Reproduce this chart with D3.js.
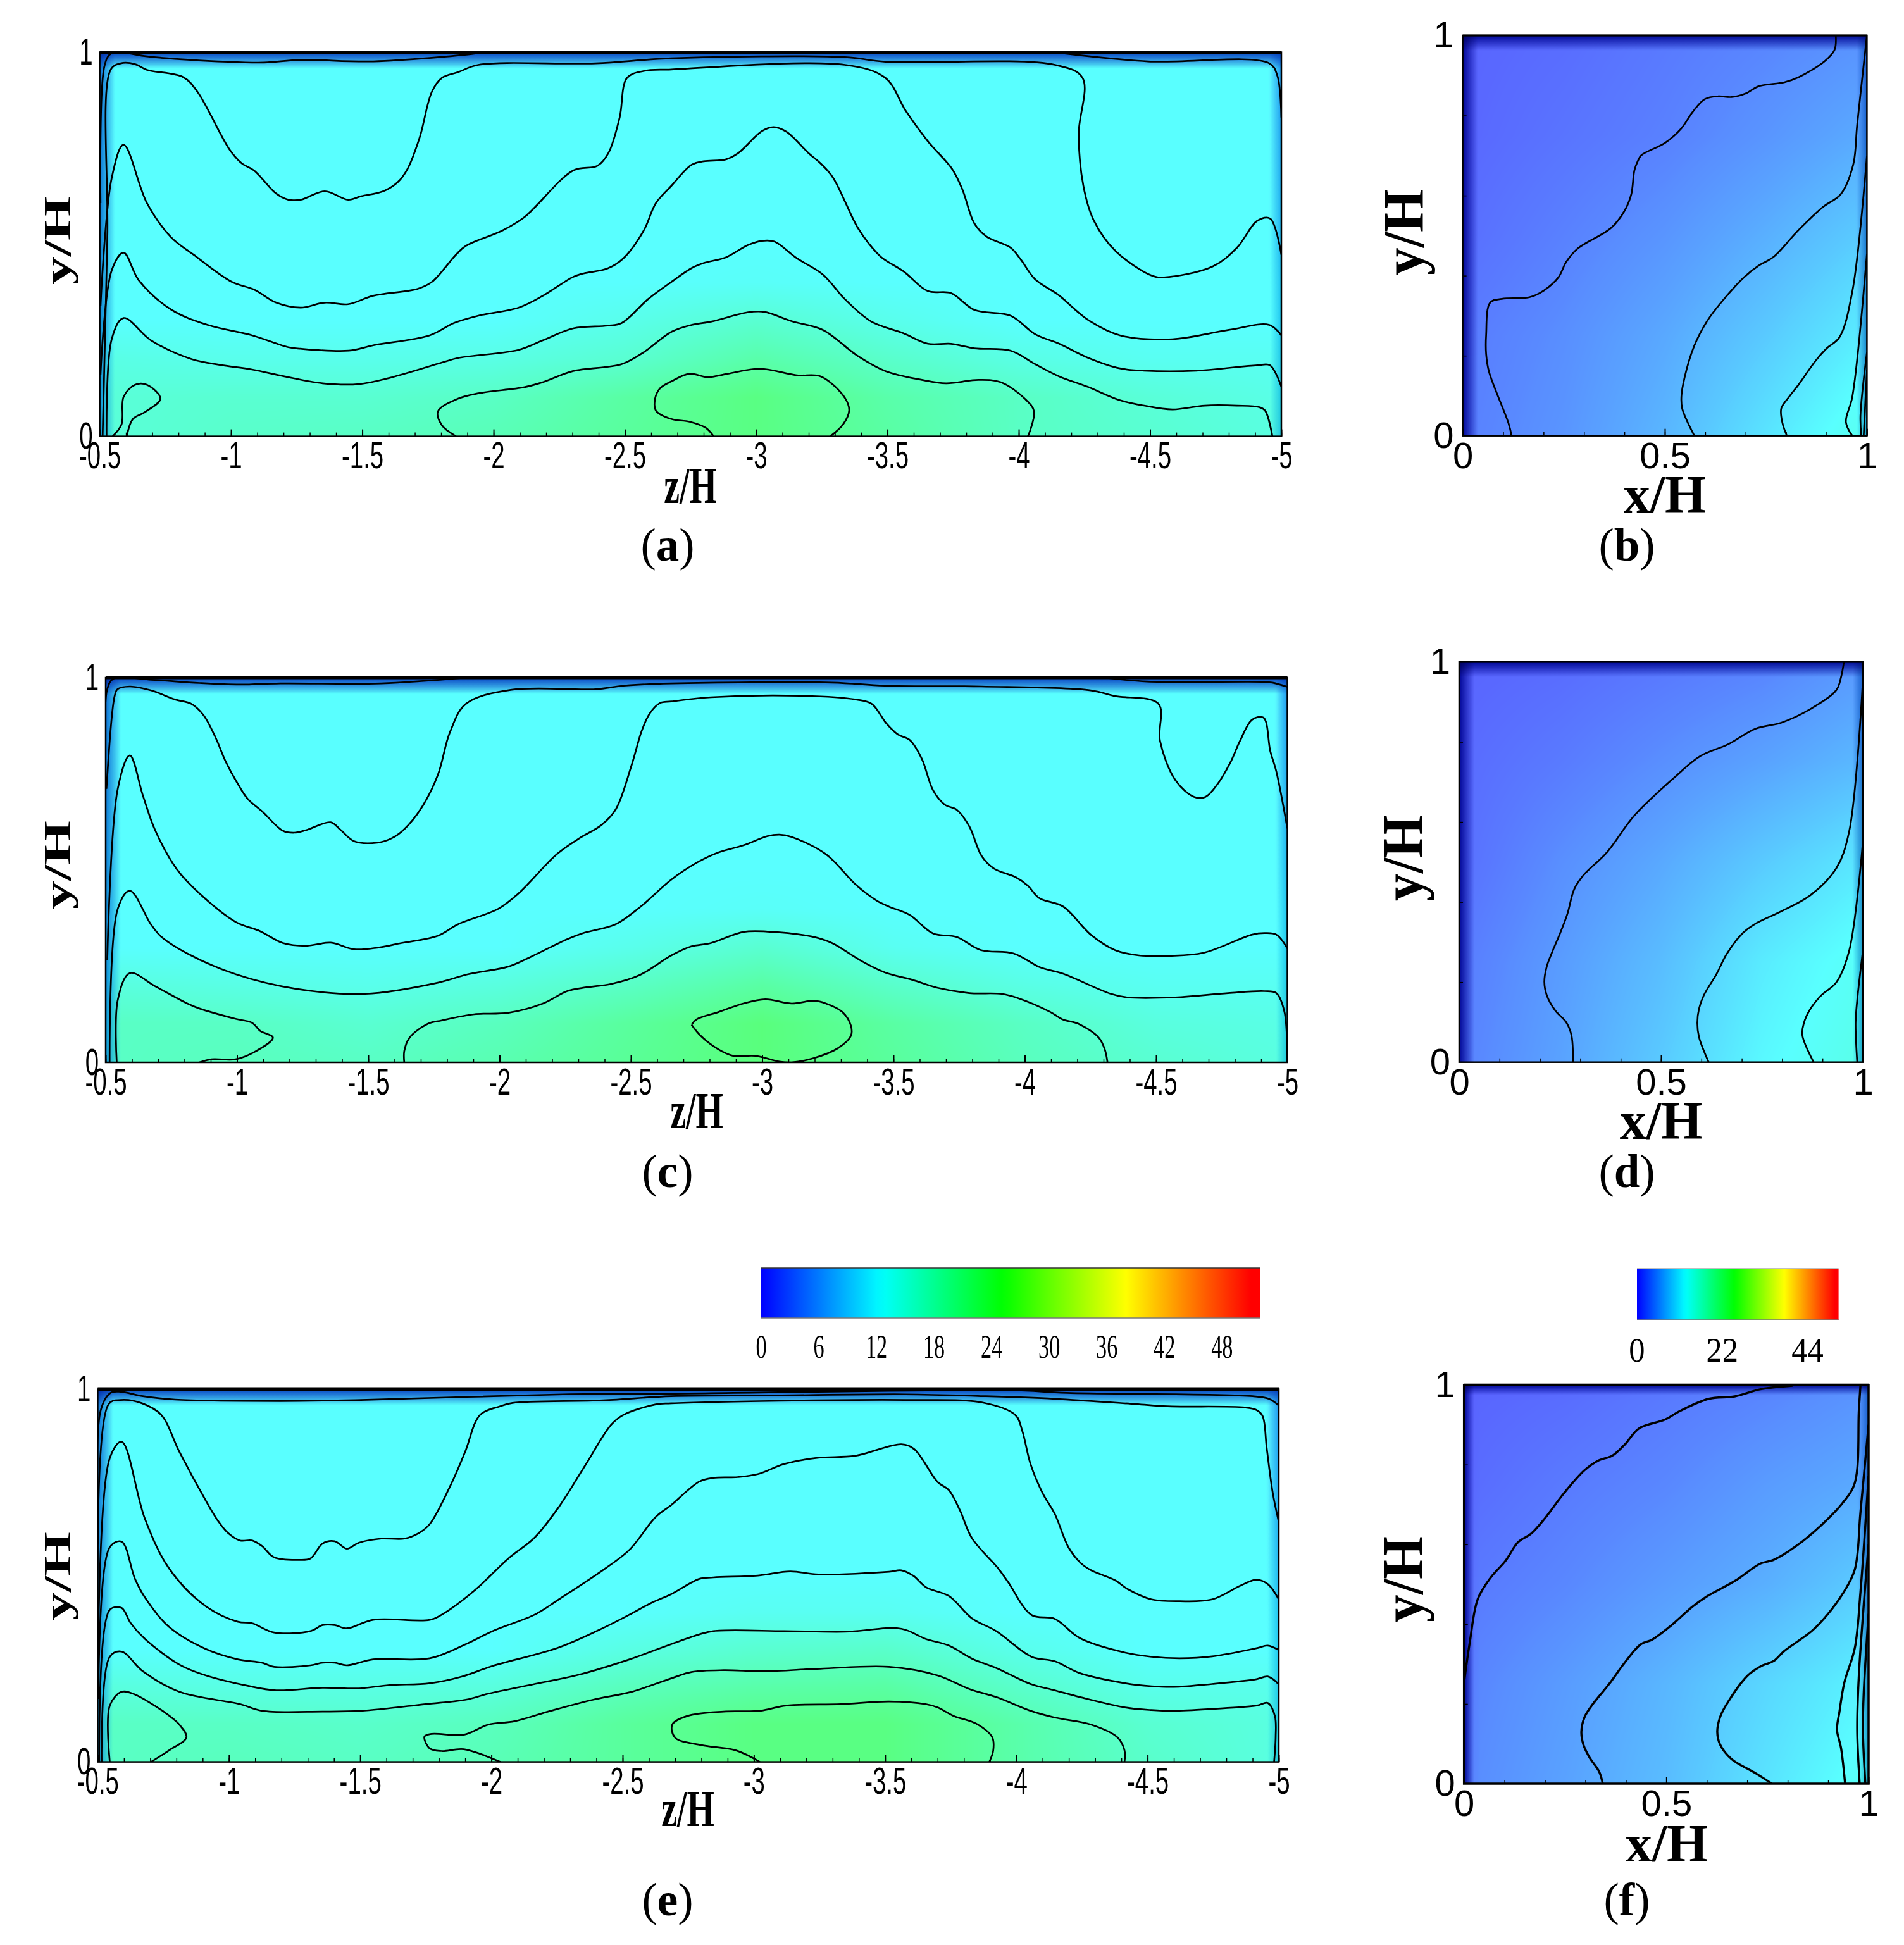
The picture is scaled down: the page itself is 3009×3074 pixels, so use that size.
<!doctype html>
<html lang="en">
<head>
<meta charset="UTF-8">
<title>Velocity contours</title>
<script src="https://cdn.jsdelivr.net/npm/d3@7/dist/d3.min.js"></script>
<style>
  html, body { margin: 0; background: #fff; }
  svg { display: block; }
</style>
</head>
<body>
<div id="app"></div>
<script>
// ---- colour bar
var barStops = [0, 12.5, 25.2, 38, 51];
var barColors = ['#0000ff', '#00ffff', '#00ff00', '#ffff00', '#ff0000'];
var barTicksWide = [0, 6, 12, 18, 24, 30, 36, 42, 48];
var barTicksSmall = [0, 22, 44];

// ---- axis ticks
var zTicks = [-0.5, -1, -1.5, -2, -2.5, -3, -3.5, -4, -4.5, -5];
var xTicks = [0, 0.5, 1];
var yTicks = [0, 1];

// ---- speed field read from the shading, rows run from the top wall down
var wideZ = [-0.5, -0.56, -1, -1.5, -2, -2.5, -3, -3.5, -4, -4.5, -4.95, -5];
var wideY = [1, 0.96, 0.5, 0.4, 0.3, 0.2, 0.1, 0];
var squareX = [0, 0.04, 0.25, 0.5, 0.75, 0.97, 1];
var squareY = [1, 0.96, 0.75, 0.5, 0.25, 0];

var fieldA = [
  [6, 7, 7, 7, 7, 7, 7, 7, 7, 7, 7, 7],
  [8, 12.5, 12.5, 12.5, 12.5, 12.5, 12.5, 12.5, 12.5, 12.5, 12.5, 8],
  [10, 12.5, 12.5, 12.5, 12.5, 12.5, 12.5, 12.5, 12.5, 12.5, 12.5, 11],
  [10.5, 12.5, 12.5, 12.5, 12.5, 12.5, 13, 12.5, 12.5, 12.5, 12.5, 12],
  [11, 12.5, 12.5, 12.5, 12.5, 14, 16, 14, 12.5, 12.5, 12.5, 12.5],
  [11.5, 14.5, 14, 14, 14.5, 16, 19, 16.5, 14.5, 13.5, 13.5, 13],
  [12, 15.5, 16, 16, 17, 19.5, 22, 19, 17, 15.5, 14.5, 13.5],
  [12.5, 15.5, 16.5, 17, 18, 20, 22, 19.5, 17, 16, 15, 14]
];
var fieldC = [
  [6, 7, 7, 7, 7, 7, 7, 7, 7, 7, 7, 7],
  [8, 12.5, 12.5, 12.5, 12.5, 12.5, 12.5, 12.5, 12.5, 12.5, 12.5, 8],
  [10, 12.5, 12.5, 12.5, 12.5, 12.5, 12.5, 12.5, 12.5, 12.5, 12.5, 11],
  [10.5, 12.5, 12.5, 12.5, 12.5, 12.5, 13, 12.5, 12.5, 12.5, 12.5, 12],
  [11, 12.5, 12.5, 12.5, 12.5, 14, 16, 13.5, 12.5, 12.5, 12.5, 12.5],
  [11.5, 15, 14.5, 14, 15, 17, 19.5, 16.5, 14.5, 13.5, 13.5, 13],
  [12, 17, 17, 16, 17.5, 20, 22.5, 19.5, 17, 15, 14.5, 13.5],
  [12.5, 17, 17.5, 17, 18.5, 20.5, 22.5, 20, 17.5, 16, 15, 14]
];
var fieldE = [
  [6, 7, 7, 7, 7, 7, 7, 7, 7, 7, 7, 7],
  [8, 12.5, 12.5, 12.5, 12.5, 12.5, 12.5, 12.5, 12.5, 12.5, 12.5, 8],
  [10, 12.5, 12.5, 12.5, 12.5, 12.5, 12.5, 12.5, 12.5, 12.5, 12.5, 11],
  [10.5, 12.5, 12.5, 12.5, 12.5, 12.5, 13.5, 13.5, 12.5, 12.5, 12.5, 12],
  [11, 12.5, 12.5, 12.5, 12.5, 14.5, 16, 16.5, 14, 12.5, 12.5, 12.5],
  [11.5, 15, 14.5, 14.5, 15, 17.5, 19, 19.5, 16.5, 14, 14, 13],
  [12, 17, 17, 16.5, 17.5, 20, 22, 22, 19, 16, 15, 13.5],
  [12.5, 17, 17.5, 17, 18, 20, 22, 22, 19, 16.5, 15, 14]
];
var fieldB = [
  [0, 0.5, 1, 2, 3, 3.5, 4],
  [0.5, 1, 1.5, 2.5, 3.5, 4.5, 4],
  [0.5, 1.2, 2, 3, 4.5, 6, 5],
  [1, 1.8, 3, 4.5, 6.5, 8.5, 7],
  [1.5, 2.8, 4, 6, 8.5, 11, 9],
  [2, 3.2, 4.5, 7, 10.5, 13.5, 12]
];
var fieldD = [
  [0, 0.5, 1, 2, 3, 4, 4.5],
  [0.5, 1, 1.5, 2.5, 3.5, 5, 4.5],
  [0.5, 1.5, 2.5, 4, 5.5, 7, 6],
  [1, 2, 4, 6, 8.5, 10.5, 9],
  [1.5, 3, 5, 7.5, 11, 13, 11.5],
  [2, 3.5, 5.5, 8.5, 12, 14, 13]
];
var fieldF = [
  [0, 0.5, 1, 2, 3, 4, 4],
  [0.5, 1, 1.5, 2.5, 3.5, 4.5, 4.5],
  [0.7, 1.5, 2.5, 3.5, 5, 6, 5],
  [1.2, 2.5, 3.5, 5, 6.5, 8.5, 7],
  [1.8, 3.5, 5, 7, 9.5, 11.5, 10],
  [2.5, 4, 5.5, 7.5, 10.5, 13, 13]
];

// ---- contour lines, [z/H, y/H] or [x/H, y/H]
var contoursA = [
  [[-0.503,0.607],[-0.518,0.964],[-0.542,0.996],[-0.595,0.998],[-0.68,0.989],[-0.988,0.975],[-1.126,0.973],[-1.265,0.98],[-1.542,0.976],[-1.926,0.996],[-1.957,1]],
  [[-4.154,0.998],[-4.492,0.976],[-4.954,0.971],[-4.985,0.938],[-5,0.83]],
  [[-0.511,0],[-0.529,0.518],[-0.542,0.955],[-0.58,0.971],[-0.634,0.969],[-0.68,0.954],[-0.818,0.935],[-0.872,0.897],[-0.995,0.746],[-1.042,0.71],[-1.088,0.692],[-1.172,0.632],[-1.218,0.616],[-1.265,0.616],[-1.357,0.638],[-1.446,0.616],[-1.495,0.625],[-1.58,0.638],[-1.634,0.661],[-1.672,0.696],[-1.718,0.777],[-1.765,0.897],[-1.803,0.933],[-1.865,0.948],[-1.942,0.967],[-2.388,0.971],[-2.677,0.984],[-3.338,0.987],[-3.492,0.975],[-4.138,0.967],[-4.243,0.933],[-4.228,0.786],[-4.246,0.652],[-4.285,0.563],[-4.369,0.482],[-4.508,0.418],[-4.554,0.414],[-4.738,0.442],[-4.831,0.491],[-4.908,0.561],[-4.957,0.567],[-5,0.473]],
  [[-0.503,0.339],[-0.546,0.674],[-0.591,0.759],[-0.68,0.607],[-0.772,0.518],[-0.857,0.473],[-1.003,0.402],[-1.088,0.382],[-1.172,0.348],[-1.265,0.335],[-1.357,0.348],[-1.446,0.344],[-1.542,0.366],[-1.711,0.384],[-1.765,0.402],[-1.857,0.473],[-1.895,0.496],[-2.034,0.536],[-2.118,0.571],[-2.303,0.692],[-2.395,0.704],[-2.437,0.737],[-2.48,0.83],[-2.508,0.933],[-2.572,0.951],[-2.677,0.955],[-3.338,0.967],[-3.492,0.933],[-3.569,0.848],[-3.654,0.768],[-3.746,0.696],[-3.785,0.643],[-3.831,0.554],[-3.877,0.52],[-3.969,0.491],[-4.008,0.46],[-4.062,0.409],[-4.151,0.368],[-4.262,0.304],[-4.385,0.263],[-4.585,0.253],[-4.8,0.277],[-4.954,0.29],[-5,0.263]],
  [[-0.503,0.161],[-0.546,0.433],[-0.591,0.478],[-0.649,0.406],[-0.772,0.33],[-0.911,0.29],[-1.08,0.263],[-1.218,0.232],[-1.265,0.228],[-1.449,0.223],[-1.542,0.237],[-1.757,0.263],[-1.849,0.295],[-1.942,0.314],[-2.095,0.335],[-2.188,0.366],[-2.303,0.415],[-2.342,0.424],[-2.434,0.437],[-2.495,0.464],[-2.572,0.536],[-2.618,0.607],[-2.677,0.652],[-2.754,0.707],[-2.8,0.716],[-2.885,0.721],[-2.931,0.737],[-3.023,0.795],[-3.066,0.805],[-3.115,0.793],[-3.2,0.737],[-3.246,0.71],[-3.292,0.674],[-3.385,0.545],[-3.431,0.5],[-3.477,0.466],[-3.562,0.429],[-3.654,0.378],[-3.742,0.373],[-3.831,0.329],[-3.969,0.314],[-4.062,0.266],[-4.154,0.241],[-4.262,0.205],[-4.385,0.177],[-4.477,0.171],[-4.677,0.171],[-4.908,0.185],[-4.957,0.185],[-5,0.129]],
  [[-0.526,0],[-0.546,0.254],[-0.591,0.308],[-0.695,0.25],[-0.849,0.201],[-0.957,0.186],[-1.08,0.174],[-1.203,0.156],[-1.349,0.138],[-1.488,0.136],[-1.603,0.152],[-1.803,0.192],[-1.865,0.204],[-2.095,0.225],[-2.188,0.25],[-2.303,0.281],[-2.434,0.288],[-2.488,0.295],[-2.588,0.357],[-2.677,0.402],[-2.754,0.438],[-2.8,0.451],[-2.885,0.466],[-2.969,0.498],[-3.023,0.509],[-3.069,0.507],[-3.154,0.464],[-3.254,0.421],[-3.338,0.357],[-3.438,0.299],[-3.562,0.268],[-3.654,0.241],[-3.742,0.241],[-3.831,0.229],[-3.969,0.223],[-4.062,0.188],[-4.154,0.156],[-4.262,0.129],[-4.385,0.094],[-4.477,0.08],[-4.585,0.07],[-4.708,0.08],[-4.831,0.08],[-4.915,0.076],[-4.938,0.067],[-4.966,0]],
  [[-1.857,0],[-1.803,0.029],[-1.788,0.065],[-1.865,0.098],[-1.942,0.112],[-2.118,0.128],[-2.188,0.141],[-2.303,0.17],[-2.488,0.188],[-2.572,0.219],[-2.677,0.272],[-2.754,0.29],[-2.831,0.299],[-2.969,0.323],[-3.031,0.324],[-3.138,0.299],[-3.254,0.277],[-3.385,0.21],[-3.492,0.17],[-3.631,0.147],[-3.723,0.138],[-3.846,0.147],[-3.931,0.141],[-4.023,0.098],[-4.058,0.065],[-4.035,0]],
  [[-2.838,0],[-2.808,0.022],[-2.746,0.038],[-2.677,0.045],[-2.618,0.067],[-2.615,0.098],[-2.634,0.125],[-2.677,0.143],[-2.746,0.163],[-2.815,0.154],[-2.892,0.163],[-3.015,0.176],[-3.154,0.159],[-3.246,0.156],[-3.338,0.1],[-3.354,0.067],[-3.331,0.031],[-3.282,0]],
  [[-0.549,0],[-0.583,0.031],[-0.591,0.103],[-0.634,0.134],[-0.68,0.134],[-0.731,0.098],[-0.672,0.063],[-0.626,0.045],[-0.603,0]]
];
var contoursC = [
  [[-0.5,0.71],[-0.506,0.97],[-0.531,0.998],[-0.665,0.995],[-0.857,0.986],[-1.011,0.982],[-1.165,0.985],[-1.549,0.985],[-1.872,1]],
  [[-4.305,1],[-4.466,0.99],[-4.912,0.989],[-4.943,0.987],[-5,0.976]],
  [[-0.503,0.711],[-0.534,0.952],[-0.545,0.97],[-0.592,0.977],[-0.672,0.967],[-0.765,0.943],[-0.826,0.932],[-0.872,0.903],[-0.918,0.845],[-0.957,0.782],[-1.003,0.724],[-1.042,0.684],[-1.095,0.653],[-1.175,0.602],[-1.218,0.597],[-1.265,0.604],[-1.357,0.624],[-1.395,0.604],[-1.446,0.575],[-1.534,0.571],[-1.588,0.582],[-1.634,0.604],[-1.703,0.662],[-1.765,0.747],[-1.811,0.858],[-1.872,0.932],[-2.042,0.968],[-2.365,0.97],[-2.472,0.979],[-2.654,0.985],[-3.266,0.987],[-3.466,0.979],[-3.835,0.977],[-4.251,0.967],[-4.343,0.952],[-4.509,0.932],[-4.515,0.836],[-4.574,0.733],[-4.645,0.69],[-4.688,0.69],[-4.735,0.724],[-4.782,0.778],[-4.82,0.836],[-4.866,0.891],[-4.909,0.896],[-4.935,0.809],[-4.958,0.756],[-5,0.608]],
  [[-0.506,0.265],[-0.546,0.711],[-0.592,0.798],[-0.642,0.693],[-0.688,0.604],[-0.772,0.501],[-0.857,0.439],[-0.995,0.365],[-1.088,0.341],[-1.175,0.31],[-1.265,0.303],[-1.357,0.311],[-1.446,0.294],[-1.534,0.298],[-1.626,0.31],[-1.765,0.329],[-1.842,0.359],[-1.995,0.399],[-2.072,0.439],[-2.218,0.541],[-2.303,0.582],[-2.388,0.617],[-2.442,0.657],[-2.503,0.773],[-2.542,0.863],[-2.572,0.907],[-2.611,0.934],[-2.654,0.938],[-2.805,0.949],[-3.143,0.953],[-3.358,0.943],[-3.417,0.932],[-3.474,0.88],[-3.517,0.852],[-3.562,0.838],[-3.608,0.789],[-3.651,0.707],[-3.697,0.669],[-3.74,0.657],[-3.789,0.613],[-3.835,0.537],[-3.882,0.504],[-3.966,0.481],[-4.012,0.459],[-4.055,0.427],[-4.146,0.405],[-4.251,0.332],[-4.343,0.292],[-4.435,0.278],[-4.551,0.277],[-4.682,0.285],[-4.866,0.332],[-4.912,0.336],[-4.958,0.332],[-5,0.296]],
  [[-0.515,0],[-0.546,0.399],[-0.592,0.446],[-0.672,0.359],[-0.711,0.327],[-0.811,0.283],[-0.995,0.229],[-1.226,0.191],[-1.488,0.178],[-1.765,0.207],[-1.88,0.229],[-2.034,0.249],[-2.118,0.274],[-2.257,0.32],[-2.318,0.336],[-2.442,0.359],[-2.534,0.403],[-2.654,0.475],[-2.751,0.519],[-2.835,0.546],[-2.928,0.564],[-3.02,0.588],[-3.066,0.592],[-3.112,0.586],[-3.243,0.541],[-3.358,0.461],[-3.435,0.421],[-3.482,0.405],[-3.562,0.383],[-3.651,0.335],[-3.74,0.326],[-3.832,0.292],[-3.958,0.283],[-4.058,0.247],[-4.143,0.231],[-4.328,0.178],[-4.389,0.169],[-4.574,0.169],[-4.774,0.18],[-4.912,0.185],[-4.958,0.18],[-4.989,0.131],[-5,0]],
  [[-0.542,0],[-0.546,0.162],[-0.592,0.232],[-0.688,0.198],[-0.811,0.153],[-0.857,0.14],[-0.995,0.113],[-1.057,0.103],[-1.088,0.082],[-1.137,0.064],[-1.072,0.029],[-0.995,0.008],[-0.903,0.008],[-0.857,0]],
  [[-1.637,0],[-1.637,0.029],[-1.657,0.064],[-1.726,0.1],[-1.78,0.109],[-1.903,0.125],[-2.034,0.129],[-2.165,0.153],[-2.257,0.185],[-2.318,0.194],[-2.426,0.204],[-2.534,0.227],[-2.654,0.278],[-2.728,0.301],[-2.805,0.31],[-2.928,0.339],[-3.02,0.34],[-3.189,0.327],[-3.266,0.31],[-3.374,0.265],[-3.466,0.234],[-3.574,0.214],[-3.666,0.194],[-3.789,0.18],[-3.912,0.178],[-3.974,0.167],[-4.097,0.131],[-4.143,0.112],[-4.205,0.1],[-4.282,0.064],[-4.305,0.033],[-4.315,0]],
  [[-2.731,0.098],[-2.751,0.112],[-2.835,0.131],[-2.928,0.153],[-3.012,0.164],[-3.112,0.153],[-3.197,0.16],[-3.243,0.153],[-3.305,0.131],[-3.338,0.095],[-3.338,0.069],[-3.289,0.037],[-3.197,0.011],[-3.112,0],[-3.066,0.002],[-2.974,0.017],[-2.889,0.017],[-2.835,0.033],[-2.766,0.069],[-2.731,0.098]]
];
var contoursE = [
  [[-0.503,0.583],[-0.511,0.942],[-0.549,0.99],[-0.588,0.993],[-0.672,0.981],[-0.795,0.972],[-1.195,0.968],[-1.503,0.971],[-2.272,0.986],[-2.685,0.988],[-3.977,0.997],[-4.192,0.99],[-4.9,0.981],[-4.962,0.974],[-5,0.956]],
  [[-0.503,0.261],[-0.542,0.96],[-0.588,0.971],[-0.669,0.962],[-0.742,0.931],[-0.811,0.832],[-0.903,0.712],[-0.957,0.648],[-0.995,0.615],[-1.042,0.594],[-1.088,0.594],[-1.126,0.579],[-1.172,0.549],[-1.265,0.542],[-1.311,0.546],[-1.357,0.586],[-1.403,0.592],[-1.449,0.572],[-1.495,0.588],[-1.58,0.599],[-1.669,0.599],[-1.726,0.615],[-1.765,0.638],[-1.849,0.749],[-1.9,0.832],[-1.957,0.931],[-2.034,0.954],[-2.08,0.963],[-2.426,0.97],[-2.685,0.981],[-3.069,0.983],[-3.577,0.986],[-3.885,0.981],[-4.146,0.974],[-4.454,0.96],[-4.577,0.954],[-4.869,0.951],[-4.915,0.944],[-4.938,0.928],[-4.954,0.841],[-4.977,0.721],[-5,0.643]],
  [[-0.503,0.353],[-0.546,0.815],[-0.591,0.859],[-0.68,0.652],[-0.772,0.519],[-0.911,0.418],[-1.034,0.376],[-1.088,0.372],[-1.172,0.347],[-1.311,0.351],[-1.357,0.367],[-1.403,0.367],[-1.449,0.358],[-1.549,0.381],[-1.765,0.381],[-1.811,0.395],[-1.934,0.459],[-2.065,0.546],[-2.165,0.602],[-2.257,0.684],[-2.357,0.795],[-2.457,0.905],[-2.503,0.931],[-2.626,0.959],[-2.685,0.962],[-3.577,0.971],[-3.877,0.963],[-3.997,0.93],[-4.023,0.887],[-4.054,0.799],[-4.1,0.721],[-4.146,0.666],[-4.2,0.574],[-4.246,0.533],[-4.285,0.514],[-4.377,0.487],[-4.423,0.464],[-4.515,0.436],[-4.623,0.431],[-4.746,0.436],[-4.854,0.473],[-4.915,0.489],[-4.958,0.477],[-5,0.436]],
  [[-0.503,0.169],[-0.546,0.576],[-0.591,0.591],[-0.642,0.491],[-0.68,0.441],[-0.772,0.362],[-0.911,0.303],[-1.034,0.275],[-1.126,0.266],[-1.172,0.255],[-1.311,0.259],[-1.357,0.266],[-1.403,0.266],[-1.449,0.259],[-1.549,0.275],[-1.765,0.278],[-1.903,0.316],[-2.011,0.353],[-2.165,0.395],[-2.257,0.436],[-2.434,0.519],[-2.526,0.569],[-2.626,0.657],[-2.685,0.689],[-2.792,0.752],[-2.846,0.762],[-2.938,0.764],[-3.015,0.772],[-3.115,0.799],[-3.246,0.816],[-3.385,0.821],[-3.562,0.852],[-3.611,0.839],[-3.7,0.751],[-3.743,0.729],[-3.785,0.675],[-3.831,0.6],[-3.931,0.519],[-3.969,0.482],[-4.058,0.394],[-4.146,0.384],[-4.242,0.332],[-4.415,0.293],[-4.515,0.282],[-4.623,0.278],[-4.746,0.283],[-4.915,0.305],[-4.958,0.312],[-5,0.3]],
  [[-0.506,0],[-0.546,0.408],[-0.591,0.413],[-0.626,0.372],[-0.68,0.33],[-0.811,0.261],[-0.903,0.234],[-1.072,0.204],[-1.18,0.192],[-1.357,0.199],[-1.495,0.197],[-1.611,0.206],[-1.765,0.211],[-1.888,0.229],[-2.003,0.257],[-2.257,0.307],[-2.434,0.362],[-2.526,0.395],[-2.611,0.427],[-2.685,0.45],[-2.792,0.491],[-2.846,0.495],[-3.015,0.5],[-3.138,0.511],[-3.246,0.503],[-3.515,0.51],[-3.562,0.514],[-3.608,0.499],[-3.657,0.468],[-3.743,0.445],[-3.831,0.385],[-3.923,0.351],[-4.058,0.282],[-4.146,0.27],[-4.242,0.238],[-4.415,0.211],[-4.515,0.203],[-4.6,0.201],[-4.746,0.209],[-4.915,0.222],[-4.958,0.229],[-5,0.208]],
  [[-0.515,0],[-0.546,0.282],[-0.591,0.296],[-0.672,0.243],[-0.811,0.188],[-1.042,0.155],[-1.126,0.137],[-1.357,0.135],[-1.503,0.137],[-1.749,0.155],[-1.903,0.167],[-1.988,0.183],[-2.18,0.211],[-2.334,0.234],[-2.526,0.275],[-2.685,0.316],[-2.792,0.342],[-2.846,0.351],[-3.115,0.351],[-3.346,0.349],[-3.562,0.357],[-3.654,0.33],[-3.743,0.312],[-3.831,0.277],[-3.923,0.252],[-4.058,0.208],[-4.146,0.192],[-4.242,0.174],[-4.415,0.146],[-4.515,0.139],[-4.6,0.137],[-4.746,0.142],[-4.915,0.151],[-4.958,0.158],[-4.985,0.123],[-4.988,0.068],[-4.982,0]],
  [[-0.546,0],[-0.546,0.151],[-0.591,0.188],[-0.634,0.183],[-0.757,0.132],[-0.811,0.1],[-0.838,0.066],[-0.772,0.031],[-0.703,0]],
  [[-2.034,0],[-1.895,0.034],[-1.811,0.029],[-1.765,0.036],[-1.745,0.068],[-1.772,0.075],[-1.895,0.073],[-1.988,0.1],[-2.088,0.109],[-2.226,0.137],[-2.388,0.167],[-2.534,0.188],[-2.685,0.224],[-2.762,0.241],[-2.885,0.246],[-3.038,0.243],[-3.254,0.25],[-3.515,0.255],[-3.7,0.232],[-3.823,0.195],[-3.923,0.174],[-4.054,0.137],[-4.146,0.119],[-4.285,0.1],[-4.385,0.066],[-4.412,0.031],[-4.412,0]],
  [[-3.023,0],[-2.931,0.031],[-2.8,0.045],[-2.7,0.065],[-2.689,0.1],[-2.746,0.123],[-2.885,0.135],[-3.023,0.137],[-3.123,0.151],[-3.331,0.155],[-3.515,0.162],[-3.654,0.155],[-3.7,0.146],[-3.762,0.123],[-3.846,0.103],[-3.908,0.066],[-3.912,0.031],[-3.897,0]]
];
var contoursB = [
  [[0.121,0],[0.113,0.032],[0.065,0.16],[0.058,0.204],[0.058,0.252],[0.068,0.333],[0.097,0.342],[0.165,0.346],[0.201,0.363],[0.237,0.396],[0.256,0.434],[0.285,0.468],[0.367,0.519],[0.401,0.563],[0.417,0.603],[0.425,0.664],[0.435,0.69],[0.442,0.701],[0.501,0.732],[0.541,0.768],[0.569,0.809],[0.599,0.841],[0.633,0.848],[0.665,0.846],[0.7,0.855],[0.732,0.873],[0.796,0.883],[0.832,0.896],[0.896,0.936],[0.92,0.964],[0.923,1]],
  [[0.573,0],[0.543,0.068],[0.541,0.098],[0.549,0.146],[0.573,0.225],[0.605,0.287],[0.641,0.335],[0.696,0.396],[0.732,0.425],[0.768,0.446],[0.832,0.515],[0.892,0.572],[0.935,0.603],[0.966,0.677],[0.976,0.778],[1,1]],
  [[0.802,0],[0.791,0.032],[0.788,0.068],[0.808,0.098],[0.832,0.129],[0.872,0.186],[0.9,0.218],[0.932,0.246],[0.964,0.361],[1,0.699]],
  [[0.964,0],[0.948,0.034],[0.964,0.098],[1,0.454]],
  [[0.986,0],[0.984,0.05],[1,0.208]],
  [[0.992,0],[1,0.164]]
];
var contoursD = [
  [[0.282,0],[0.278,0.068],[0.265,0.1],[0.238,0.129],[0.217,0.167],[0.211,0.201],[0.217,0.239],[0.23,0.274],[0.25,0.322],[0.268,0.37],[0.285,0.432],[0.308,0.467],[0.366,0.524],[0.434,0.616],[0.534,0.712],[0.598,0.765],[0.666,0.794],[0.734,0.833],[0.798,0.848],[0.87,0.882],[0.934,0.929],[0.946,0.962],[0.953,1]],
  [[0.618,0],[0.594,0.063],[0.59,0.098],[0.594,0.133],[0.606,0.167],[0.638,0.221],[0.662,0.269],[0.702,0.322],[0.734,0.346],[0.794,0.375],[0.87,0.417],[0.934,0.484],[0.966,0.576],[1,0.954]],
  [[0.878,0],[0.85,0.068],[0.854,0.098],[0.87,0.133],[0.898,0.168],[0.934,0.199],[0.966,0.278],[1,0.55]],
  [[0.986,0],[0.982,0.098],[0.986,0.155],[1,0.278]]
];
var contoursF = [
  [[0,0.253],[0.014,0.353],[0.034,0.463],[0.066,0.517],[0.102,0.558],[0.134,0.606],[0.166,0.627],[0.202,0.668],[0.246,0.727],[0.298,0.786],[0.334,0.811],[0.366,0.822],[0.397,0.85],[0.433,0.891],[0.497,0.913],[0.533,0.934],[0.605,0.965],[0.669,0.971],[0.733,0.989],[0.812,0.998]],
  [[0.343,0],[0.334,0.03],[0.31,0.066],[0.295,0.098],[0.29,0.13],[0.298,0.167],[0.318,0.199],[0.358,0.249],[0.397,0.303],[0.436,0.349],[0.465,0.361],[0.509,0.394],[0.565,0.444],[0.601,0.47],[0.669,0.508],[0.733,0.552],[0.765,0.561],[0.82,0.595],[0.884,0.649],[0.936,0.704],[0.966,0.754],[0.976,0.936],[0.98,1]],
  [[0.761,0],[0.721,0.026],[0.661,0.062],[0.633,0.098],[0.626,0.13],[0.633,0.167],[0.649,0.199],[0.701,0.271],[0.733,0.294],[0.766,0.308],[0.792,0.333],[0.86,0.383],[0.9,0.426],[0.936,0.476],[0.966,0.537],[0.98,0.681],[1,0.9]],
  [[0.942,0],[0.932,0.089],[0.922,0.135],[0.928,0.18],[0.94,0.253],[0.966,0.34],[0.98,0.481],[1,0.772]],
  [[0.978,0],[0.972,0.135],[0.976,0.271],[1,0.6]],
  [[0.992,0],[0.986,0.135],[0.988,0.226],[1,0.426]]
];

// ---- layout of the six panels (pixels) and their walls
var panels = [
  {id: 'a', kind: 'wide', field: fieldA, lines: contoursA, box: [157.6, 82.5, 2025, 689.6], yLabel: [111, 380], xLabel: [1091, 795], cap: [1055, 886], topW: 5},
  {id: 'b', kind: 'square', field: fieldB, lines: contoursB, box: [2311.6, 56, 2950.4, 688.7], yLabel: [2249, 367], xLabel: [2631, 810], cap: [2571, 886], topW: 3},
  {id: 'c', kind: 'wide', field: fieldC, lines: contoursC, box: [167, 1071, 2034.5, 1679], yLabel: [111, 1367], xLabel: [1101, 1783], cap: [1055, 1876], topW: 5},
  {id: 'd', kind: 'square', field: fieldD, lines: contoursD, box: [2306, 1046, 2944, 1678.7], yLabel: [2248, 1356], xLabel: [2625, 1800], cap: [2571, 1876], topW: 3},
  {id: 'e', kind: 'wide', field: fieldE, lines: contoursE, box: [154.4, 2195.5, 2021, 2784.6], yLabel: [111, 2491], xLabel: [1087, 2886], cap: [1055, 3027], topW: 6},
  {id: 'f', kind: 'square', field: fieldF, lines: contoursF, box: [2313.7, 2188.7, 2953, 2819], yLabel: [2248, 2496], xLabel: [2634, 2942], cap: [2571, 3027], topW: 4}
];

var sansFont = '"Liberation Sans", Arial, sans-serif';
var serifFont = '"Liberation Serif", "Times New Roman", serif';

var svg = d3.select('#app').append('svg')
  .attr('width', 3009)
  .attr('height', 3074)
  .attr('viewBox', '0 0 3009 3074');
var defs = svg.append('defs');

var barColor = d3.scaleLinear().domain(barStops).range(barColors).clamp(true);

// lookup table so the field does not parse a colour string per pixel
var lut = d3.range(0, 1041).map(function(i) {
  var c = d3.rgb(d3.interpolateRgb(barColor(i / 20), '#fff')(0.35));
  return [c.r, c.g, c.b];
});

function drawField(g, p, x, y, cols, rows) {
  var w = Math.round(p.box[2] - p.box[0]);
  var h = Math.round(p.box[3] - p.box[1]);
  var canvas = document.createElement('canvas');
  canvas.width = w;
  canvas.height = h;
  var ctx = canvas.getContext('2d');
  var img = ctx.createImageData(w, h);
  var colIndex = d3.scaleLinear().domain(cols).range(d3.range(cols.length)).clamp(true);
  var rowIndex = d3.scaleLinear().domain(rows).range(d3.range(rows.length)).clamp(true);
  var i = 0;
  for (var py = 0; py < h; py++) {
    var fr = rowIndex(y.invert(p.box[1] + py + 0.5));
    var r0 = Math.min(Math.floor(fr), rows.length - 2);
    var tr = fr - r0;
    var top = p.field[r0], bot = p.field[r0 + 1];
    for (var px = 0; px < w; px++) {
      var fc = colIndex(x.invert(p.box[0] + px + 0.5));
      var c0 = Math.min(Math.floor(fc), cols.length - 2);
      var tc = fc - c0;
      var v = (top[c0] * (1 - tc) + top[c0 + 1] * tc) * (1 - tr) + (bot[c0] * (1 - tc) + bot[c0 + 1] * tc) * tr;
      var c = lut[Math.max(0, Math.min(1040, Math.round(v * 20)))];
      img.data[i++] = c[0];
      img.data[i++] = c[1];
      img.data[i++] = c[2];
      img.data[i++] = 255;
    }
  }
  ctx.putImageData(img, 0, 0);
  g.append('image')
    .attr('x', p.box[0])
    .attr('y', p.box[1])
    .attr('width', w)
    .attr('height', h)
    .attr('preserveAspectRatio', 'none')
    .attr('href', canvas.toDataURL());
}

// dark strip along a wall, multiplied over the field
function wallShade(g, p, side, depth, color) {
  var id = 'wall-' + p.id + '-' + side;
  var vertical = side === 'top';
  var grad = defs.append('linearGradient').attr('id', id)
    .attr('x1', side === 'right' ? 1 : 0).attr('y1', 0)
    .attr('x2', side === 'right' ? 0 : (vertical ? 0 : 1)).attr('y2', vertical ? 1 : 0);
  grad.append('stop').attr('offset', 0).attr('stop-color', color);
  grad.append('stop').attr('offset', 0.35).attr('stop-color', d3.interpolateRgb(color, '#fff')(0.35));
  grad.append('stop').attr('offset', 1).attr('stop-color', '#fff');
  var b = p.box;
  g.append('rect')
    .attr('x', side === 'right' ? b[2] - depth : b[0])
    .attr('y', b[1])
    .attr('width', vertical ? b[2] - b[0] : depth)
    .attr('height', vertical ? depth : b[3] - b[1])
    .attr('fill', 'url(#' + id + ')')
    .style('mix-blend-mode', 'multiply');
}

// the traced polylines are coarser than the original, so round them a little
var line = d3.line().curve(d3.curveCatmullRom.alpha(0.5));

panels.forEach(function(p) {
  var wide = p.kind === 'wide';
  var b = p.box;
  var x = d3.scaleLinear().domain(wide ? [-0.5, -5] : [0, 1]).range([b[0], b[2]]);
  var y = d3.scaleLinear().domain([0, 1]).range([b[3], b[1]]);
  var g = svg.append('g').attr('class', 'panel panel-' + p.id);

  drawField(g, p, x, y, wide ? wideZ : squareX, wide ? wideY : squareY);

  if (wide) {
    wallShade(g, p, 'left', 24, 'rgb(40,150,215)');
    wallShade(g, p, 'top', 26, 'rgb(20,100,195)');
    wallShade(g, p, 'right', 18, 'rgb(90,200,240)');
  } else {
    wallShade(g, p, 'left', p.id === 'f' ? 16 : 24, 'rgb(0,15,150)');
    wallShade(g, p, 'top', p.id === 'f' ? 16 : 24, 'rgb(0,20,150)');
    wallShade(g, p, 'right', 16, 'rgb(70,165,205)');
  }

  var clipId = 'clip-' + p.id;
  defs.append('clipPath').attr('id', clipId).append('rect')
    .attr('x', b[0]).attr('y', b[1]).attr('width', b[2] - b[0]).attr('height', b[3] - b[1]);

  line.x(function(d) { return x(d[0]); }).y(function(d) { return y(d[1]); });
  g.append('g').attr('clip-path', 'url(#' + clipId + ')')
    .selectAll('path.contour')
    .data(p.lines)
    .enter()
    .append('path')
    .attr('class', 'contour')
    .attr('d', line)
    .attr('fill', 'none')
    .attr('stroke', '#000')
    .attr('stroke-width', p.id === 'f' ? 3.4 : 2.7)
    .attr('stroke-linejoin', 'round');

  // frame
  g.append('rect')
    .attr('x', b[0]).attr('y', b[1]).attr('width', b[2] - b[0]).attr('height', b[3] - b[1])
    .attr('fill', 'none').attr('stroke', '#000').attr('stroke-width', p.id === 'f' ? 3.5 : 2.5);
  g.append('line')
    .attr('x1', b[0]).attr('x2', b[2]).attr('y1', b[1]).attr('y2', b[1])
    .attr('stroke', '#000').attr('stroke-width', p.topW);

  // minor ticks, pointing inwards
  var minorBottom = wide ? d3.range(5, 51).map(function(d) { return -d / 10; }) : d3.range(0, 11).map(function(d) { return d / 10; });
  var minorAxis = d3.axisBottom(x).tickValues(minorBottom).tickSize(-6).tickFormat('');
  g.append('g').attr('transform', 'translate(0,' + b[3] + ')').call(minorAxis)
    .call(function(s) { s.select('.domain').remove(); });
  if (!wide) {
    var leftAxis = d3.axisLeft(y).tickValues([0.2, 0.4, 0.6, 0.8]).tickSize(-6).tickFormat('');
    g.append('g').attr('transform', 'translate(' + b[0] + ',0)').call(leftAxis)
      .call(function(s) { s.select('.domain').remove(); });
  }
  g.selectAll('.tick line').attr('stroke-width', 1.5);

  // labelled ticks
  var squeeze = wide ? 0.64 : 1;
  var fontSize = wide ? 60 : 58;
  var bottomAxis = d3.axisBottom(x)
    .tickValues(wide ? zTicks : xTicks)
    .tickSize(-11)
    .tickPadding(wide ? 8 : 10)
    .tickFormat(function(d) { return String(d); });
  var bottomG = g.append('g').attr('transform', 'translate(0,' + b[3] + ')').call(bottomAxis);
  bottomG.select('.domain').remove();
  bottomG.selectAll('line').attr('stroke-width', 2);
  bottomG.selectAll('text')
    .attr('transform', 'scale(' + squeeze + ',1)')
    .style('font-family', sansFont)
    .style('font-size', fontSize + 'px');
  bottomG.attr('font-family', null).attr('font-size', null);

  var sideAxis = d3.axisLeft(y)
    .tickValues(yTicks)
    .tickSize(0)
    .tickPadding(wide ? 11 / squeeze : 14)
    .tickFormat(d3.format('d'));
  var sideG = g.append('g').attr('transform', 'translate(' + b[0] + ',0)').call(sideAxis);
  sideG.select('.domain').remove();
  sideG.selectAll('text')
    .attr('transform', 'scale(' + squeeze + ',1)')
    .style('font-family', sansFont)
    .style('font-size', fontSize + 'px');
  sideG.attr('font-family', null).attr('font-size', null);

  // axis names
  g.append('text')
    .attr('transform', 'translate(' + p.yLabel[0] + ',' + p.yLabel[1] + ') rotate(-90) scale(' + (wide ? 1.45 : 0.95) + ',1)')
    .attr('text-anchor', 'middle')
    .style('font-family', serifFont)
    .style('font-weight', 'bold')
    .style('font-size', (wide ? 62 : 92) + 'px')
    .text('y/H');
  g.append('text')
    .attr('transform', 'translate(' + p.xLabel[0] + ',' + p.xLabel[1] + ') scale(' + (wide ? 0.68 : 1) + ',1)')
    .attr('text-anchor', 'middle')
    .style('font-family', serifFont)
    .style('font-weight', 'bold')
    .style('font-size', (wide ? 82 : 84) + 'px')
    .text(wide ? 'z/H' : 'x/H');

  // caption
  var cap = g.append('text')
    .attr('x', p.cap[0]).attr('y', p.cap[1])
    .attr('text-anchor', 'middle')
    .style('font-family', serifFont)
    .style('font-size', '73px');
  cap.append('tspan').text('(');
  cap.append('tspan').style('font-weight', 'bold').text(p.id);
  cap.append('tspan').text(')');
});

// ---- colour bars
function drawBar(id, box, ticks, fontSize, squeeze, baseline, topColor) {
  var scale = d3.scaleLinear().domain([0, 52]).range([box[0], box[0] + (box[2] - box[0]) * 52 / box[4]]);
  var grad = defs.append('linearGradient').attr('id', id)
    .attr('gradientUnits', 'userSpaceOnUse')
    .attr('x1', scale(0)).attr('x2', scale(52)).attr('y1', 0).attr('y2', 0);
  grad.selectAll('stop')
    .data(d3.range(0, 53))
    .enter()
    .append('stop')
    .attr('offset', function(d) { return d / 52; })
    .attr('stop-color', function(d) { return barColor(d); });
  var g = svg.append('g').attr('class', 'colorbar');
  g.append('rect')
    .attr('x', scale(0)).attr('y', box[1])
    .attr('width', scale(52) - scale(0)).attr('height', box[3] - box[1])
    .attr('fill', 'url(#' + id + ')');
  g.append('line').attr('x1', scale(0)).attr('x2', scale(52)).attr('y1', box[1]).attr('y2', box[1])
    .attr('stroke', topColor).attr('stroke-width', 1.5);
  g.append('line').attr('x1', scale(0)).attr('x2', scale(52)).attr('y1', box[3]).attr('y2', box[3])
    .attr('stroke', '#777').attr('stroke-width', 1.5);
  g.selectAll('text.bar-label')
    .data(ticks)
    .enter()
    .append('text')
    .attr('class', 'bar-label')
    .attr('transform', function(d) { return 'translate(' + scale(d) + ',' + baseline + ') scale(' + squeeze + ',1)'; })
    .attr('text-anchor', 'middle')
    .style('font-family', serifFont)
    .style('font-size', fontSize + 'px')
    .text(function(d) { return d; });
}
drawBar('bar-wide', [1203, 2004, 1992, 2083, 52], barTicksWide, 52, 0.66, 2146, '#333');
drawBar('bar-small', [2587, 2005, 2905.6, 2086, 52], barTicksSmall, 55, 0.92, 2152, '#aaa');
</script>
</body>
</html>
